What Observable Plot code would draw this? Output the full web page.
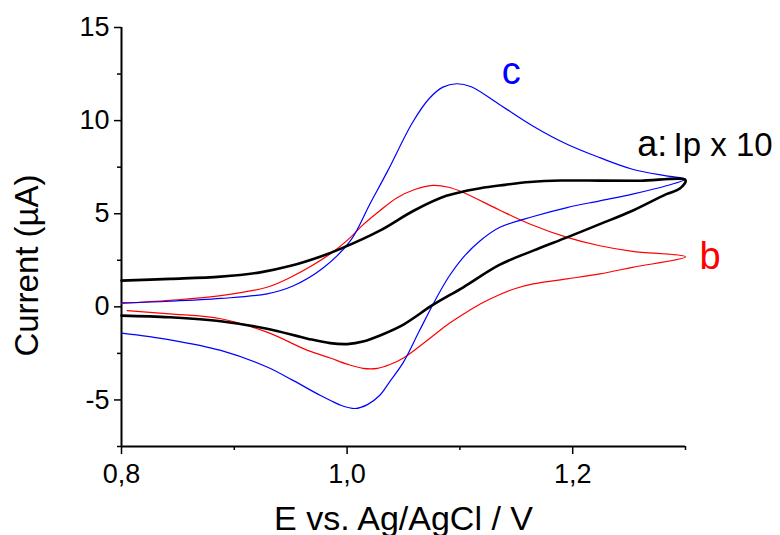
<!DOCTYPE html>
<html><head><meta charset="utf-8">
<script src="https://cdn.jsdelivr.net/npm/d3@7"></script>
<script src="https://cdn.jsdelivr.net/npm/@observablehq/plot@0.6"></script>
<style>
  body { margin: 0; background: #fff; }
  svg { font-family: "Liberation Sans", Arial, sans-serif; }
</style>
</head><body><div id="chart"></div>
<script>
// ---- Data (potential E in V, current I in µA) ----
// Curve a (black, Ip x 10) – forward then reverse scan
const aE = [0.800,0.843,0.888,0.923,0.950,0.976,0.994,1.029,1.059,1.088,1.118,1.140,1.162,1.190,1.224,1.260,1.300,
            1.295,1.283,1.253,1.224,1.195,1.165,1.135,1.103,1.076,1.050,1.029,1.015,1.000,0.985,0.965,0.929,0.888,0.843,0.800];
const aI = [1.41,1.50,1.62,1.85,2.20,2.69,3.11,4.09,5.16,5.96,6.37,6.55,6.70,6.78,6.78,6.77,6.80,
            6.35,6.05,5.16,4.44,3.73,3.02,2.25,1.05,0.10,-0.95,-1.54,-1.85,-2.00,-1.95,-1.71,-1.18,-0.77,-0.56,-0.47];
// Curve b (red)
const bE = [0.800,0.843,0.888,0.929,0.950,0.985,1.003,1.014,1.029,1.044,1.060,1.076,1.090,1.103,1.135,1.162,1.195,1.224,1.253,1.300,
            1.253,1.224,1.195,1.165,1.150,1.135,1.118,1.103,1.088,1.070,1.050,1.038,1.027,1.014,1.000,0.985,0.965,0.929,0.888,0.843,0.805];
const bI = [0.19,0.35,0.60,1.05,1.59,2.84,3.73,4.40,5.16,5.85,6.30,6.52,6.42,6.14,5.20,4.45,3.73,3.28,2.98,2.69,
            2.12,1.77,1.50,1.23,1.00,0.65,0.15,-0.40,-1.00,-1.85,-2.75,-3.10,-3.30,-3.30,-3.08,-2.75,-2.34,-1.36,-0.64,-0.38,-0.20];
// Curve c (blue)
const cE = [0.800,0.843,0.888,0.929,0.952,0.979,1.003,1.020,1.036,1.058,1.073,1.085,1.097,1.110,1.135,1.165,1.195,1.224,1.253,1.283,1.300,
            1.283,1.253,1.224,1.195,1.165,1.135,1.118,1.103,1.090,1.078,1.064,1.050,1.038,1.029,1.018,1.007,0.995,0.985,0.976,0.952,0.929,0.888,0.843,0.800];
const cI = [0.21,0.30,0.45,0.70,1.12,2.10,3.55,5.50,7.30,9.90,11.20,11.80,11.98,11.82,10.87,9.70,8.73,8.01,7.39,7.03,6.86,
            6.50,6.05,5.69,5.33,4.85,4.26,3.55,2.66,1.60,0.34,-1.30,-2.97,-4.00,-4.75,-5.25,-5.46,-5.30,-5.02,-4.75,-3.95,-3.23,-2.34,-1.77,-1.41];

// Axes
const xDomain = [0.8, 1.3];
const yDomain = [-7.5, 15];
const xMajor = [0.8, 1.0, 1.2];
const xMinor = [0.9, 1.1, 1.3];
const yMajor = [-5, 0, 5, 10, 15];
const yMinor = [-7.5, -2.5, 2.5, 7.5, 12.5];
const xTitle = "E vs. Ag/AgCl / V";
const yTitle = "Current (\u00B5A)";

// Curve labels (anchored in data units)
const labelText = ["c", "b", "a:", "Ip x 10"];
const labelE = [1.137, 1.3124, 1.2573, 1.2894];
const labelI = [11.96, 2.05, 8.1, 8.1];

const toRows = (E, I) => E.map((e, i) => ({E: e, I: I[i]}));
const fmtX = d => d.toFixed(1).replace(".", ",");
const fmtY = d => String(d);

const chart = Plot.plot({
  width: 780, height: 535,
  marginTop: 27, marginBottom: 89, marginLeft: 121, marginRight: 95,
  style: {fontFamily: '"Liberation Sans", Arial, sans-serif', background: "white", overflow: "visible"},
  x: {domain: xDomain},
  y: {domain: yDomain},
  marks: [
    Plot.axisX({ticks: xMajor, tickSize: 8, tickPadding: 9, tickFormat: fmtX, fontSize: 27, label: null, strokeWidth: 1.5}),
    Plot.axisX({ticks: xMinor, tickSize: 4, tickFormat: () => "", label: null, strokeWidth: 1.5}),
    Plot.axisY({ticks: yMajor, tickSize: 7, tickPadding: 5, tickFormat: fmtY, fontSize: 27, label: null, strokeWidth: 1.5}),
    Plot.axisY({ticks: yMinor, tickSize: 4, tickFormat: () => "", label: null, strokeWidth: 1.5}),
    Plot.ruleX([xDomain[0]], {strokeWidth: 2}),
    Plot.ruleY([yDomain[0]], {strokeWidth: 2}),
    Plot.line(toRows(bE, bI), {x: "E", y: "I", stroke: "#ff0000", strokeWidth: 1.2, curve: "catmull-rom"}),
    Plot.line(toRows(cE, cI), {x: "E", y: "I", stroke: "#0000ff", strokeWidth: 1.2, curve: "catmull-rom"}),
    Plot.line(toRows(aE, aI), {x: "E", y: "I", stroke: "#000000", strokeWidth: 2.6, curve: "catmull-rom"}),
    Plot.text([0], {x: () => labelE[0], y: () => labelI[0], text: () => labelText[0], fill: "#0000ff", fontSize: 38, textAnchor: "start", lineAnchor: "bottom"}),
    Plot.text([1], {x: () => labelE[1], y: () => labelI[1], text: () => labelText[1], fill: "#ff0000", fontSize: 38, textAnchor: "start", lineAnchor: "bottom"}),
    Plot.text([2], {x: () => labelE[2], y: () => labelI[2], text: () => labelText[2], fill: "#000000", fontSize: 36, textAnchor: "start", lineAnchor: "bottom"}),
    Plot.text([3], {x: () => labelE[3], y: () => labelI[3], text: () => labelText[3], fill: "#000000", fontSize: 33, textAnchor: "start", lineAnchor: "bottom"}),
    Plot.text([xTitle], {text: d => d, frameAnchor: "bottom", textAnchor: "middle", lineAnchor: "bottom", dy: 83, fontSize: 34}),
    Plot.text([yTitle], {text: d => d, frameAnchor: "left", textAnchor: "middle", rotate: -90, lineAnchor: "bottom", dx: -84, dy: 28.5, fontSize: 33})
  ]
});
document.getElementById("chart").append(chart);
</script>
</body></html>
